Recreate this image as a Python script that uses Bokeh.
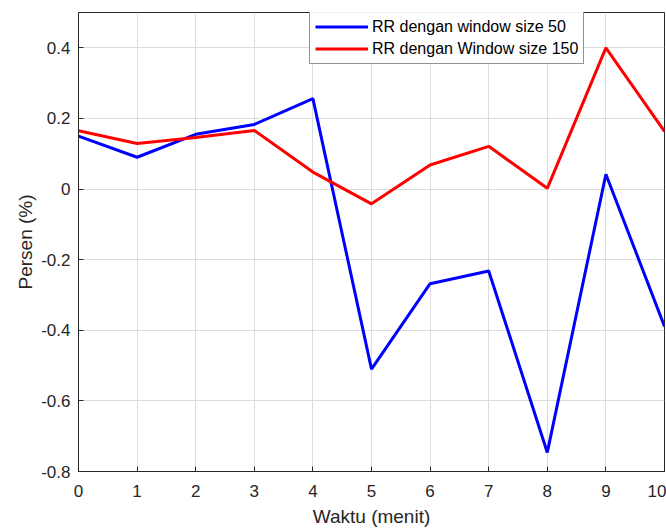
from bokeh.plotting import figure
from bokeh.models import Range1d, FixedTicker, Legend, LegendItem
from bokeh.embed import file_html
from bokeh.resources import INLINE

waktu = [0, 1, 2, 3, 4, 5, 6, 7, 8, 9, 10]
rr_w50 = [0.15, 0.09, 0.155, 0.183, 0.256, -0.51, -0.268, -0.232, -0.746, 0.042, -0.389]
rr_w150 = [0.165, 0.129, 0.146, 0.166, 0.048, -0.042, 0.068, 0.121, 0.002, 0.400, 0.163]
x_ticks = [0, 1, 2, 3, 4, 5, 6, 7, 8, 9, 10]
y_ticks = [-0.8, -0.6, -0.4, -0.2, 0, 0.2, 0.4]
label_w50 = "RR dengan window size 50"
label_w150 = "RR dengan Window size 150"

FONT = "Liberation Sans"

p = figure(width=666, height=529, output_backend="svg", toolbar_location=None,
           x_range=Range1d(0, 10), y_range=Range1d(-0.8, 0.5),
           min_border_left=78, min_border_right=2, min_border_top=12, min_border_bottom=56)

p.outline_line_color = "#262626"
p.outline_line_width = 1
p.background_fill_color = "white"
p.border_fill_color = "white"

for ax in (p.xaxis[0], p.yaxis[0]):
    ax.major_tick_in = 5
    ax.major_tick_out = 0
    ax.minor_tick_in = 0
    ax.minor_tick_out = 0
    ax.axis_line_color = "#262626"
    ax.major_tick_line_color = "#262626"
    ax.major_label_text_font = FONT
    ax.major_label_text_font_size = "17px"
    ax.major_label_text_color = "#262626"
    ax.axis_label_text_font = FONT
    ax.axis_label_text_font_size = "19px"
    ax.axis_label_text_font_style = "normal"
    ax.axis_label_text_color = "#262626"

p.xaxis.ticker = FixedTicker(ticks=x_ticks)
p.yaxis.ticker = FixedTicker(ticks=y_ticks)
p.yaxis.major_label_overrides = {-0.8: "-0.8", -0.6: "-0.6", -0.4: "-0.4", -0.2: "-0.2", 0: "0", 0.2: "0.2", 0.4: "0.4"}
p.xaxis.axis_label = "Waktu (menit)"
p.yaxis.axis_label = "Persen (%)"
p.xaxis.major_label_standoff = 13
p.yaxis.major_label_standoff = 8
p.xaxis.axis_label_standoff = 6
p.yaxis.axis_label_standoff = 2

p.grid.grid_line_color = "#dcdcdc"
p.grid.grid_line_width = 1
p.xgrid.ticker = FixedTicker(ticks=x_ticks)
p.ygrid.ticker = FixedTicker(ticks=y_ticks)

l1 = p.line(waktu, rr_w50, line_color="#0000ff", line_width=3)
l2 = p.line(waktu, rr_w150, line_color="#ff0000", line_width=3)

legend = Legend(items=[LegendItem(label=label_w50, renderers=[l1]),
                       LegendItem(label=label_w150, renderers=[l2])],
                location=(231, 407))
legend.label_text_font = FONT
legend.label_text_font_size = "16px"
legend.label_text_color = "#000000"
legend.border_line_color = "#262626"
legend.border_line_width = 1
legend.glyph_width = 53
legend.glyph_height = 19
legend.label_height = 19
legend.spacing = 3
legend.padding = 5
legend.margin = 0
legend.label_standoff = 4
p.add_layout(legend, "center")

open("out.html", "w").write(file_html(p, INLINE))
